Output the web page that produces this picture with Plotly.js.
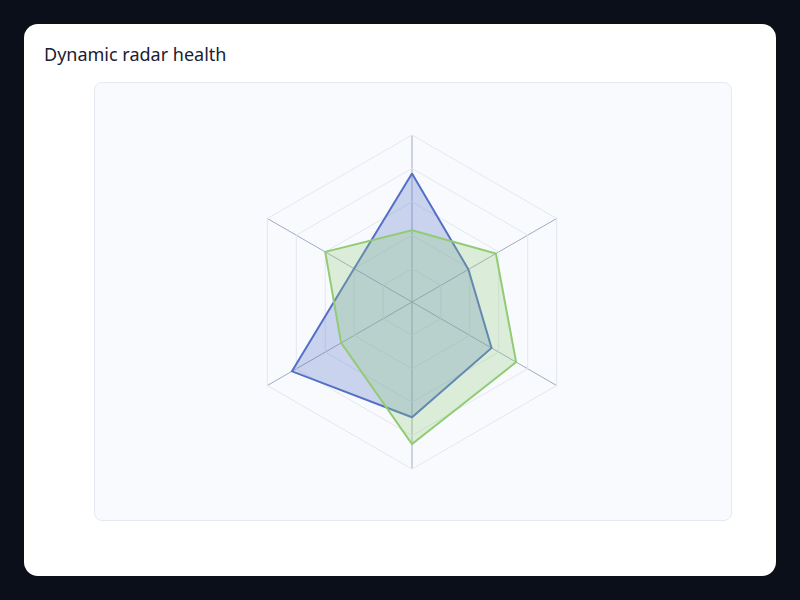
<!DOCTYPE html>
<html>
<head>
<meta charset="utf-8">
<script src="https://cdn.plot.ly/plotly-3.0.1.min.js"></script>
<style>
  html, body { margin: 0; padding: 0; background: #0b0f1a; width: 800px; height: 600px; overflow: hidden; }
  #card { position: absolute; left: 24px; top: 24px; width: 752px; height: 552px; background: #ffffff; border-radius: 14px; overflow: hidden; }
  #plotbg { position: absolute; left: 70px; top: 58px; width: 636px; height: 437px; background: #f8fafe; border: 1px solid #e5e9f0; border-radius: 8px; }
  #chart { position: absolute; left: 0; top: 0; width: 752px; height: 552px; }
</style>
</head>
<body>
<div id="card">
  <div id="plotbg"></div>
  <div id="chart"></div>
</div>
<script>
// radar axes (labels are hidden in the picture)
const indicators = ['Latency', 'Uptime', 'Throughput', 'Errors', 'Capacity', 'Security'];
const seriesA = [77, 39, 55, 69, 83, 40];
const seriesB = [43, 58, 72, 85, 49, 60];

const CARD_W = 752, CARD_H = 552;
const CX = 388, CY = 278, R = 167;

function closed(arr) { return arr.concat([arr[0]]); }

const traces = [
    {
        type: 'scatterpolar',
        r: closed(seriesA), theta: closed(indicators),
        mode: 'lines', fill: 'toself',
        fillcolor: 'rgba(84,112,198,0.28)',
        line: { color: '#5470c6', width: 2 },
        name: 'Series A', hoverinfo: 'skip'
    },
    {
        type: 'scatterpolar',
        r: closed(seriesB), theta: closed(indicators),
        mode: 'lines', fill: 'toself',
        fillcolor: 'rgba(145,204,117,0.28)',
        line: { color: '#91cc75', width: 2 },
        name: 'Series B', hoverinfo: 'skip'
    }
];

const layout = {
    width: CARD_W,
    height: CARD_H,
    margin: { l: 0, r: 0, t: 0, b: 0 },
    paper_bgcolor: 'rgba(0,0,0,0)',
    showlegend: false,
    font: { family: '"Noto Sans", sans-serif' },
    title: {
        text: 'Dynamic radar health',
        font: { size: 18, color: '#1a2033', family: '"Noto Sans", sans-serif' },
        xref: 'container', yref: 'container',
        x: 20 / CARD_W, xanchor: 'left',
        y: 1 - 31 / CARD_H, yanchor: 'middle'
    },
    polar: {
        domain: {
            x: [(CX - R) / CARD_W, (CX + R) / CARD_W],
            y: [(CARD_H - CY - R) / CARD_H, (CARD_H - CY + R) / CARD_H]
        },
        bgcolor: 'rgba(0,0,0,0)',
        gridshape: 'linear',
        radialaxis: {
            range: [0, 100], dtick: 20,
            showticklabels: false, ticks: '',
            showline: false,
            gridcolor: '#e3e7ef', gridwidth: 1
        },
        angularaxis: {
            rotation: 90, direction: 'clockwise',
            showticklabels: false, ticks: '',
            showline: true, linecolor: '#e3e7ef', linewidth: 1,
            gridcolor: '#a0abc0', gridwidth: 1
        }
    }
};

Plotly.newPlot('chart', traces, layout, { displayModeBar: false, responsive: false });
</script>
</body>
</html>
